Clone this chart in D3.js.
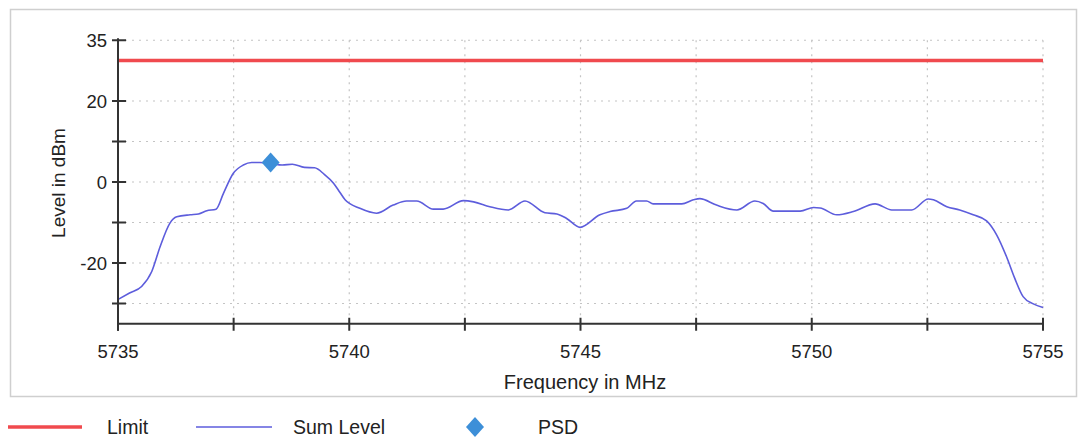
<!DOCTYPE html>
<html><head><meta charset="utf-8">
<script src="https://cdn.jsdelivr.net/npm/d3@7"></script>
<style>
html,body{margin:0;padding:0;background:#fff;}
svg{display:block;font-family:"Liberation Sans",Arial,sans-serif;}
</style></head>
<body><svg id="chart" width="1083" height="441"></svg>
<script>
// ---- data ----
const frequency = [5735.00,5735.25,5735.51,5735.73,5735.91,5736.12,5736.27,5736.56,5736.74,5736.92,5737.12,5737.28,5737.49,5737.71,5737.89,5738.07,5738.30,5738.55,5738.77,5739.03,5739.25,5739.46,5739.66,5739.80,5739.91,5740.23,5740.59,5740.95,5741.24,5741.46,5741.82,5742.03,5742.47,5742.69,5743.04,5743.44,5743.80,5744.23,5744.49,5744.70,5744.99,5745.42,5745.64,5746.00,5746.21,5746.43,5746.57,5747.19,5747.44,5747.58,5747.94,5748.38,5748.77,5748.95,5749.17,5749.75,5750.04,5750.18,5750.54,5750.90,5751.37,5751.73,5752.16,5752.52,5752.63,5752.92,5753.20,5753.49,5753.78,5754.00,5754.21,5754.39,5754.57,5754.79,5755.00];
const sumLevel = [-29.0,-27.4,-25.8,-22.1,-16.0,-10.2,-8.6,-8.1,-7.9,-7.1,-6.7,-2.8,2.1,4.2,4.8,4.8,4.6,4.2,4.4,3.6,3.5,1.9,-0.3,-2.6,-4.4,-6.5,-7.7,-5.7,-4.7,-4.7,-6.7,-6.7,-4.6,-4.9,-6.1,-6.9,-4.7,-7.6,-7.9,-9.0,-11.2,-8.1,-7.3,-6.5,-4.7,-4.7,-5.4,-5.4,-4.4,-4.1,-5.7,-6.9,-4.7,-5.3,-7.2,-7.2,-6.3,-6.4,-8.1,-7.3,-5.4,-6.9,-6.9,-4.2,-4.4,-6.1,-6.9,-8.1,-9.6,-13.1,-18.4,-23.8,-28.3,-30.1,-31.0];
const limitFreq = [5735, 5755];
const limitLevel = [30, 30];
const psdFreq = [5738.30];
const psdLevel = [4.8];
const xTicks = [5735, 5737.5, 5740, 5742.5, 5745, 5747.5, 5750, 5752.5, 5755];
const xTickLabels = ["5735", "", "5740", "", "5745", "", "5750", "", "5755"];
const yTicks = [35, 20, 10, 0, -10, -20, -30];
const yTickLabels = ["35", "20", "", "0", "", "-20", ""];
const legendItems = ["Limit", "Sum Level", "PSD"];

// ---- drawing ----
const svg = d3.select("#chart");
const L = 118, R = 1043, T = 40.25, B = 323.75;
const x = d3.scaleLinear().domain([5735, 5755]).range([L, R]);
const y = d3.scaleLinear().domain([-35, 35]).range([B, T]);

const red = "#f04a4e", blue = "#5d5ddc", psdCol = "#3d8fd8";

// outer border
svg.append("rect").attr("x", 10.5).attr("y", 9.5).attr("width", 1066).attr("height", 387)
  .attr("fill", "#fff").attr("stroke", "#cfcfcf").attr("stroke-width", 1.5);

// grid
const grid = svg.append("g");
grid.selectAll("line.h").data(yTicks).join("line")
  .attr("x1", L).attr("x2", R).attr("y1", d => y(d)).attr("y2", d => y(d))
  .attr("stroke", "#c4c4c4").attr("stroke-width", 1.2).attr("stroke-dasharray", "2,5");
grid.selectAll("line.v").data(xTicks.slice(1)).join("line")
  .attr("x1", d => x(d)).attr("x2", d => x(d)).attr("y1", T).attr("y2", B)
  .attr("stroke", "#c4c4c4").attr("stroke-width", 1.2).attr("stroke-dasharray", "2,5");

// limit
const line = d3.line().x(d => x(d[0])).y(d => y(d[1]));
svg.append("path").datum(d3.zip(limitFreq, limitLevel)).attr("d", line)
  .attr("fill", "none").attr("stroke", red).attr("stroke-width", 3.5);

// sum level
svg.append("path").datum(d3.zip(frequency, sumLevel)).attr("d", line.curve(d3.curveMonotoneX))
  .attr("fill", "none").attr("stroke", blue).attr("stroke-width", 1.6).attr("stroke-linejoin", "round");

// PSD
const diamond = "M0,-10L9,0L0,10L-9,0Z";
svg.selectAll("path.psd").data(d3.zip(psdFreq, psdLevel)).join("path")
  .attr("d", diamond).attr("transform", d => `translate(${x(d[0])},${y(d[1])})`)
  .attr("fill", psdCol);

// axes
const ax = svg.append("g").attr("stroke", "#333").attr("stroke-width", 2);
ax.append("line").attr("x1", L).attr("x2", L).attr("y1", T - 2).attr("y2", B + 7);
ax.append("line").attr("x1", L).attr("x2", R + 1).attr("y1", B).attr("y2", B);
ax.selectAll("line.yt").data(yTicks).join("line")
  .attr("x1", L - 6).attr("x2", L + 8).attr("y1", d => y(d)).attr("y2", d => y(d));
ax.selectAll("line.xt").data(xTicks).join("line")
  .attr("x1", d => x(d)).attr("x2", d => x(d)).attr("y1", B - 6).attr("y2", B + 7);

svg.append("g").selectAll("text").data(d3.zip(yTicks, yTickLabels)).join("text")
  .attr("x", 107).attr("y", d => y(d[0])).attr("dy", "0.36em").attr("text-anchor", "end")
  .attr("font-size", 18.5).attr("fill", "#222").text(d => d[1]);
svg.append("g").selectAll("text").data(d3.zip(xTicks, xTickLabels)).join("text")
  .attr("x", d => x(d[0])).attr("y", 358).attr("text-anchor", "middle")
  .attr("font-size", 18.5).attr("fill", "#222").text(d => d[1]);

svg.append("text").attr("x", 585).attr("y", 389).attr("text-anchor", "middle")
  .attr("font-size", 20).attr("fill", "#222").text("Frequency in MHz");
svg.append("text").attr("transform", "translate(65,183) rotate(-90)").attr("text-anchor", "middle")
  .attr("font-size", 19).attr("fill", "#222").text("Level in dBm");

// legend
const lg = svg.append("g");
lg.append("line").attr("x1", 8).attr("x2", 82).attr("y1", 427).attr("y2", 427)
  .attr("stroke", red).attr("stroke-width", 3.5);
lg.append("line").attr("x1", 196).attr("x2", 272).attr("y1", 427).attr("y2", 427)
  .attr("stroke", blue).attr("stroke-width", 1.6);
lg.append("path").attr("d", diamond).attr("transform", "translate(475,427)").attr("fill", psdCol);
const lx = [107, 293, 538];
lg.selectAll("text").data(legendItems).join("text")
  .attr("x", (d, i) => lx[i]).attr("y", 434).attr("font-size", 19.5).attr("fill", "#222")
  .text(d => d);
</script></body></html>
